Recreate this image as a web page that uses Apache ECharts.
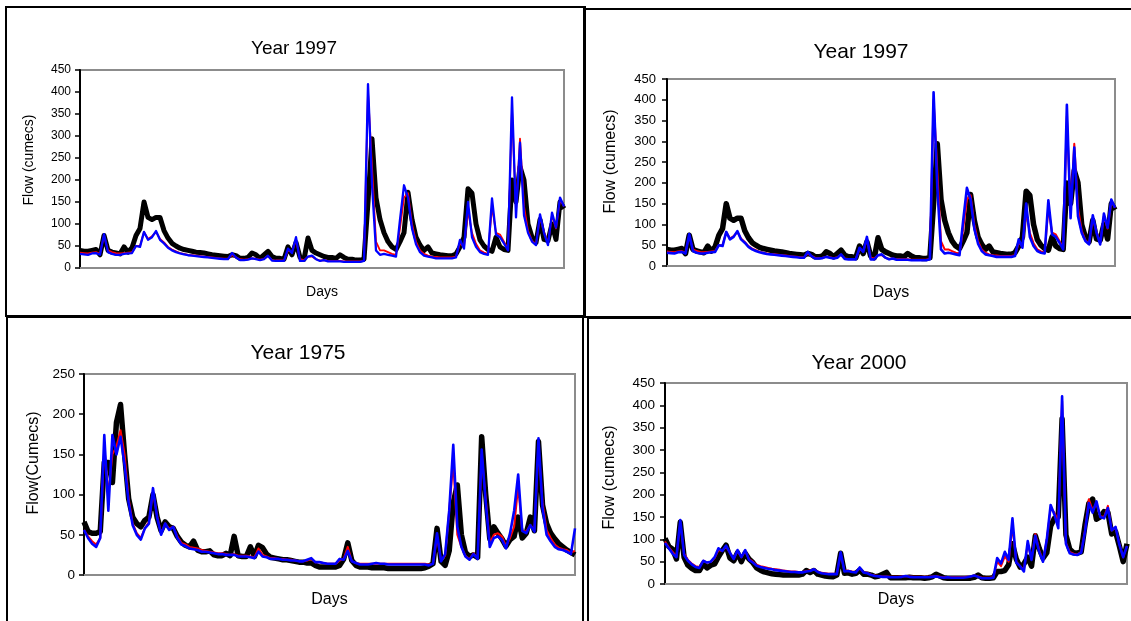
<!DOCTYPE html>
<html><head><meta charset="utf-8">
<script src="https://cdn.jsdelivr.net/npm/echarts@6/dist/echarts.min.js"></script>
<style>html,body{margin:0;padding:0;background:#fff}#c{width:1131px;height:621px}</style>
</head><body><div id="c"></div>
<script>
// Year 1997 (3-day samples) – observed (black), red model, blue model
const B97 = [40,38,38,40,42,30,74,40,36,34, 32,48,36,46,74,90,150,115,110,115, 115,85,68,56,50,45,42,40,38,36, 35,34,32,30,29,28,27,26,30,28, 22,22,24,34,30,22,30,38,26,22, 22,20,48,30,58,24,20,68,40,34, 30,26,24,24,22,30,24,20,20,18, 18,20,150,294,160,110,80,60,48,42, 60,80,172,110,70,52,40,48,34,32, 30,29,28,28,32,48,70,180,170,100, 64,50,42,38,70,48,42,40,200,150, 230,200,100,70,58,110,65,62,100,65, 150,135];
const R97 = [35,34,33,35,36,32,74,40,36,34, 33,34,35,36,50,50,82,66,72,82, 66,58,48,42,38,34,32,30,29,28, 27,26,25,24,23,22,21,21,30,24, 20,19,20,22,21,19,21,27,18,17, 17,17,40,36,64,20,18,26,26,20, 17,18,16,16,16,16,15,15,15,15, 15,17,400,230,60,40,40,36,32,30, 90,160,170,100,60,40,32,28,26,25, 24,24,24,24,26,56,48,130,80,55, 40,35,32,140,80,76,60,44,360,130, 294,140,85,62,54,115,82,56,120,90, 155,140];
const U97 = [32,31,30,33,34,30,77,36,32,30, 30,32,33,34,50,48,82,64,70,84, 64,56,46,40,36,33,31,29,28,27, 26,25,24,23,22,21,20,20,34,24, 18,18,19,22,20,18,20,28,17,16, 16,16,44,34,70,16,16,26,28,20, 16,18,15,15,15,15,14,14,14,14, 14,16,418,190,40,30,32,30,28,26, 110,188,160,90,54,36,28,26,24,22, 22,22,22,22,24,64,44,150,70,48, 36,32,30,158,76,70,56,40,388,115, 285,120,80,60,52,122,80,52,126,92, 160,140];
// Year 1975
const B75 = [66,54,52,52,54,140,140,115,190,212, 150,95,72,64,60,68,72,100,72,55, 66,60,58,48,41,37,35,42,31,29, 29,30,25,24,24,27,24,48,24,23, 23,35,23,37,34,26,22,21,20,19, 19,18,17,16,16,15,15,12,10,10, 10,10,10,12,20,40,18,12,10,10, 10,9,9,9,9,8,8,8,8,8, 8,8,8,8,9,11,14,58,17,12, 30,90,112,50,28,23,25,22,172,100, 45,60,52,45,36,44,48,72,46,52, 72,55,166,87,64,52,45,39,35,31, 28,25];
const R75 = [56,48,42,38,46,160,100,150,160,180, 150,95,64,52,46,58,66,104,74,52, 64,58,60,48,40,38,35,34,33,31, 30,29,28,27,27,26,25,26,24,24, 24,23,22,33,25,23,21,21,20,20, 19,19,18,17,17,18,20,16,16,15, 14,14,14,18,20,35,17,15,14,14, 14,14,14,14,14,14,14,14,14,14, 14,14,14,14,14,13,14,48,18,24, 80,140,50,35,24,20,27,21,150,95, 40,50,52,48,36,46,60,110,55,54, 62,56,160,90,56,46,38,34,32,31, 28,30];
const U75 = [56,46,39,35,46,174,80,174,150,172, 137,90,62,50,44,58,64,108,72,50, 64,56,60,46,38,36,33,32,31,29, 29,28,27,26,26,25,25,25,23,23, 23,22,21,29,23,22,20,20,20,19, 19,18,18,17,17,19,21,16,16,15, 14,14,14,20,19,30,17,15,13,13, 13,14,15,14,14,13,13,13,13,13, 13,13,13,13,13,12,14,52,17,26, 80,162,60,35,23,19,26,20,156,90, 35,46,48,44,33,52,80,125,55,52, 62,54,170,83,50,42,35,32,31,29, 26,58];
// Year 2000
const B00 = [102,84,78,56,138,60,42,35,30,30, 45,36,42,45,61,75,87,58,52,70, 50,69,56,48,36,31,27,25,23,22, 21,20,20,20,20,20,22,30,26,30, 22,20,18,17,16,20,69,24,25,22, 24,31,22,22,20,16,18,22,26,14, 14,14,14,14,15,14,14,14,13,14, 16,22,18,14,13,13,13,13,13,13, 13,15,20,14,13,13,14,28,28,30, 43,90,56,38,45,60,40,108,80,58, 70,130,147,150,370,110,78,70,69,72, 132,180,190,145,150,162,160,112,117,85, 50,90];
const R00 = [95,82,72,62,138,68,54,46,40,38, 52,48,50,58,76,74,84,70,57,74, 60,74,56,50,43,40,38,36,34,33, 32,30,29,28,28,27,27,29,30,33, 28,25,24,23,23,23,68,29,30,28, 27,35,27,25,21,19,18,17,17,16, 16,16,17,18,17,16,16,16,16,16, 17,18,16,15,15,15,15,15,15,16, 17,19,17,14,14,14,15,50,40,62, 50,130,50,40,32,90,56,112,76,52, 100,170,160,140,410,92,72,68,66,72, 120,190,165,180,152,150,175,120,126,90, 60,85];
const U00 = [92,80,68,60,143,65,52,44,38,36, 52,48,50,60,80,74,86,70,56,76, 60,76,54,48,41,38,36,34,33,31, 30,29,28,27,27,26,26,28,29,33, 27,24,23,22,22,22,71,28,29,27, 26,37,26,24,20,18,17,16,16,15, 15,15,16,18,16,15,15,15,15,15, 16,17,15,14,15,14,14,14,14,15, 17,19,16,13,13,13,14,58,46,72, 54,147,48,40,28,96,54,108,72,50, 100,177,155,125,420,90,69,66,65,70, 117,181,160,185,150,147,170,120,128,88, 60,85];

const titles = ['Year 1997','Year 1997','Year 1975','Year 2000'];
const yNames = ['Flow (cumecs)','Flow (cumecs)','Flow(Cumecs)','Flow (cumecs)'];
const xName = 'Days';
const yMax = [450,450,250,450];
const panelData = [[B97,R97,U97],[B97,R97,U97],[B75,R75,U75],[B00,R00,U00]];

const FONT = '"Liberation Sans", Arial, sans-serif';
const layout = [
  {grid:{left:80,top:70,width:484,height:198}, tx:294, ty:39, tfs:19, lfs:12, nfs:14, lm:9, ygap:44, ypad:18, xgap:17, lw:[5,1.8,2.3]},
  {grid:{left:667,top:79,width:448,height:187}, tx:861, ty:42, tfs:21, lfs:13, nfs:16, lm:11, ygap:48, ypad:22, xgap:19, lw:[5.5,2,2.6]},
  {grid:{left:84,top:374,width:491,height:201}, tx:298, ty:343, tfs:21, lfs:13.5, nfs:16, lm:9, ygap:42, ypad:23, xgap:17, lw:[5.5,2,2.6]},
  {grid:{left:665,top:383,width:462,height:201}, tx:859, ty:353, tfs:21, lfs:13.5, nfs:16, lm:10, ygap:47, ypad:12, xgap:8, lw:[5.5,2,2.6]}
];
const colors = ['#000000','#ff0000','#0000ff'];

const option = {
  animation:false,
  backgroundColor:'#ffffff',
  title:[], grid:[], xAxis:[], yAxis:[], series:[],
  graphic:[
    {type:'rect', shape:{x:6,y:7,width:579,height:309}, style:{fill:'none',stroke:'#000',lineWidth:2}},
    {type:'rect', shape:{x:584,y:9,width:560,height:308}, style:{fill:'none',stroke:'#000',lineWidth:2}},
    {type:'rect', shape:{x:7,y:317,width:576,height:330}, style:{fill:'none',stroke:'#000',lineWidth:2}},
    {type:'rect', shape:{x:588,y:318,width:560,height:330}, style:{fill:'none',stroke:'#000',lineWidth:2}}
  ]
};

layout.forEach((L,k)=>{
  option.title.push({text:titles[k], left:L.tx, top:L.ty, textAlign:'center', padding:0,
    textStyle:{fontFamily:FONT, fontSize:L.tfs, fontWeight:'normal', color:'#000'}});
  option.grid.push(Object.assign({show:true, borderColor:'#8c8c8c', borderWidth:2, backgroundColor:'#fff', containLabel:false}, L.grid));
  const n = panelData[k][0].length;
  option.xAxis.push({type:'value', gridIndex:k, min:0, max:n-1,
    name:xName, nameLocation:'middle', nameGap:L.xgap,
    nameTextStyle:{fontFamily:FONT, fontSize:L.nfs, color:'#000'},
    axisLine:{show:true, onZero:false, lineStyle:{color:'#8c8c8c', width:2}},
    axisTick:{show:false}, axisLabel:{show:false}, splitLine:{show:false}});
  option.yAxis.push({type:'value', gridIndex:k, min:0, max:yMax[k], interval:50,
    name:yNames[k], nameLocation:'middle', nameGap:L.ygap, nameRotate:90,
    nameTextStyle:{fontFamily:FONT, fontSize:L.nfs, color:'#000', padding:[0,0,0,L.ypad]},
    axisLine:{show:true, lineStyle:{color:'#000', width:2}},
    axisTick:{show:true, inside:false, length:5, lineStyle:{color:'#000', width:1.5}},
    axisLabel:{fontFamily:FONT, fontSize:L.lfs, color:'#000', margin:L.lm},
    splitLine:{show:false}});
  panelData[k].forEach((arr,s)=>{
    option.series.push({type:'line', xAxisIndex:k, yAxisIndex:k, symbol:'none',
      data:arr.map((v,i)=>[i,v]),
      lineStyle:{color:colors[s], width:L.lw[s], join:'round'},
      itemStyle:{color:colors[s]}, z:2+s});
  });
});

const chart = echarts.init(document.getElementById('c'), null, {renderer:'canvas'});
chart.setOption(option);
</script></body></html>
